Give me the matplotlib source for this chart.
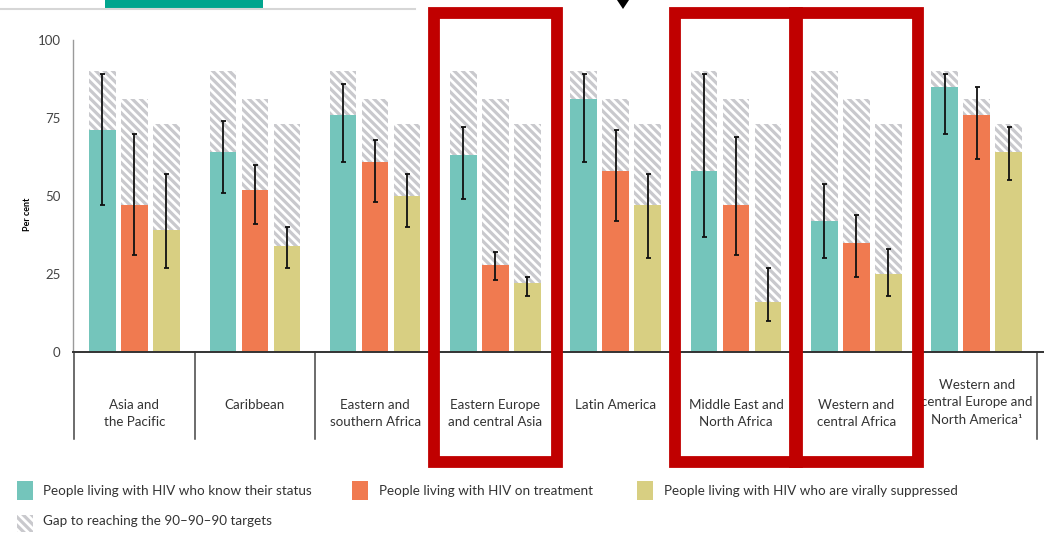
import numpy as np
import matplotlib.pyplot as plt
from matplotlib.patches import Rectangle, Polygon

plt.rcParams['font.family'] = ['Lato', 'DejaVu Sans']
plt.rcParams['hatch.linewidth'] = 2.3

# data
regions = ["Asia and\nthe Pacific", "Caribbean", "Eastern and\nsouthern Africa",
           "Eastern Europe\nand central Asia", "Latin America", "Middle East and\nNorth Africa",
           "Western and\ncentral Africa", "Western and\ncentral Europe and\nNorth America\u00b9"]

know = [71, 64, 76, 63, 81, 58, 42, 85]
know_lo = [47, 51, 61, 49, 61, 37, 30, 70]
know_hi = [89, 74, 86, 72, 89, 89, 54, 89]

treat = [47, 52, 61, 28, 58, 47, 35, 76]
treat_lo = [31, 41, 48, 23, 42, 31, 24, 62]
treat_hi = [70, 60, 68, 32, 71, 69, 44, 85]

supp = [39, 34, 50, 22, 47, 16, 25, 64]
supp_lo = [27, 27, 40, 18, 30, 10, 18, 55]
supp_hi = [57, 40, 57, 24, 57, 27, 33, 72]

targets = [90, 81, 73]
highlighted = [3, 5, 6]

series_names = ["People living with HIV who know their status",
                "People living with HIV on treatment",
                "People living with HIV who are virally suppressed"]
gap_name = "Gap to reaching the 90\u201390\u201390 targets"

colors = ['#74C5BB', '#F07A50', '#D8CF82']
hatch_col = '#C9C9CD'
hatch = '\\' * 4

W, H = 1044, 533
fig = plt.figure(figsize=(W/100, H/100), dpi=100)

def px(x, y):
    """pixel (from top-left) to figure fraction"""
    return x / W, 1 - y / H

ax = fig.add_axes([73/W, (H-352)/H, (W-73)/W, 312/H])

x = np.arange(len(regions))
offs = [-0.266, 0.0, 0.266]
bw = 0.22

series = [(know, know_lo, know_hi), (treat, treat_lo, treat_hi), (supp, supp_lo, supp_hi)]
for k, (vals, lo, hi) in enumerate(series):
    xs = x + offs[k]
    ax.bar(xs, [targets[k]]*len(x), bw, color='white', edgecolor=hatch_col,
           hatch=hatch, lw=0, zorder=1)
    ax.bar(xs, vals, bw, color=colors[k], lw=0, zorder=2)
    vals = np.array(vals)
    yerr = [vals - np.array(lo), np.array(hi) - vals]
    ax.errorbar(xs, vals, yerr=yerr, fmt='none', ecolor='#111111', elinewidth=1.3,
                capsize=1.8, capthick=1.3, zorder=3)

ax.set_xlim(-0.511, 7.56)
ax.set_ylim(0, 100)
ax.set_xticks([])
ax.set_yticks([0, 25, 50, 75, 100])
ax.tick_params(axis='y', length=0, pad=9, labelsize=9.5, labelcolor='#444444')
for s in ['top', 'right']:
    ax.spines[s].set_visible(False)
ax.spines['left'].set_color('#9a9a9a')
ax.spines['left'].set_linewidth(1.0)
ax.spines['bottom'].set_color('#333333')
ax.spines['bottom'].set_linewidth(1.4)
ax.set_ylabel("Per cent", fontsize=6.5, fontweight='bold')
ax.yaxis.set_label_coords(-0.042, 0.44)

# separators and category labels below the axis
for sx in np.arange(-0.5, len(regions)):
    ax.plot([sx, sx], [0, -28], color='#444444', lw=1.1, clip_on=False, zorder=1)
for i, lab in enumerate(regions):
    ty = -8.5 if lab.count('\n') >= 2 else -15.0
    ax.text(i, ty, lab, ha='center', va='top', fontsize=9.6, color='#333333',
            linespacing=1.55, zorder=1)

# red highlight boxes
for i in highlighted:
    ax.add_patch(Rectangle((i - 0.51, -35.1), 1.02, 143.8, fill=False,
                           edgecolor='#C00000', lw=8.5, clip_on=False, zorder=10,
                           joinstyle='miter'))

# bits of page decoration at the top
fig.add_artist(plt.Line2D([0, 415/W], [1 - 9/H, 1 - 9/H], color='#d6d6d6', lw=1.5))
fig.add_artist(Rectangle(px(105, 8), 158/W, 8/H, color='#00A58E', lw=0))
fig.add_artist(Polygon([px(617, 0), px(629, 0), px(623, 9)], closed=True,
                       color='black', lw=0))

# legend
leg = [(17, 481, colors[0], series_names[0], 43),
       (352, 481, colors[1], series_names[1], 379),
       (637, 481, colors[2], series_names[2], 664)]
for sx, sy, c, name, tx in leg:
    fig.add_artist(Rectangle(px(sx, sy + 19), 16/W, 19/H, color=c, lw=0))
    fig.text(*px(tx, 491), name, fontsize=9.7, color='#333333', va='center')
fig.add_artist(Rectangle(px(17, 532), 16/W, 17/H, facecolor='white',
                         edgecolor=hatch_col, hatch=hatch, lw=0))
fig.text(*px(43, 521), gap_name, fontsize=9.7, color='#333333', va='center')

fig.savefig('out.png', dpi=100)
